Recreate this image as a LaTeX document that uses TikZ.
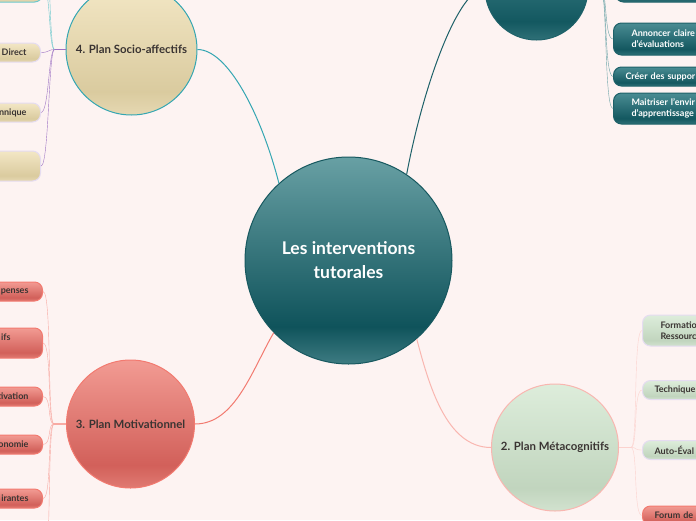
\documentclass[tikz,border=0pt]{standalone}
\usepackage{fontspec}
\setmainfont{Lato}
\usetikzlibrary{calc}

\definecolor{bgpink}{HTML}{FDF3F2}
\definecolor{textdark}{HTML}{3A3432}
% circle and box fills
\definecolor{rootband}{HTML}{3E7C82}
\definecolor{rootdark}{HTML}{0F535B}
\definecolor{rootlight}{HTML}{68A0A4}
\definecolor{tband}{HTML}{2F7077}
\definecolor{tdark}{HTML}{135860}
\definecolor{tlight}{HTML}{4A8C93}
\definecolor{bband}{HTML}{E6D8B2}
\definecolor{bdark}{HTML}{DACB9F}
\definecolor{blight}{HTML}{F3E7C5}
\definecolor{rband}{HTML}{E07A72}
\definecolor{rdark}{HTML}{D2605A}
\definecolor{rlight}{HTML}{F29B93}
\definecolor{gband}{HTML}{D2E2CF}
\definecolor{gdark}{HTML}{C1D5BE}
\definecolor{glight}{HTML}{DDEDDB}
% lines
\definecolor{rootline}{HTML}{17585F}
\definecolor{cyanline}{HTML}{34A6B2}
\definecolor{cyanlight}{HTML}{6CC8CC}
\definecolor{purpleline}{HTML}{9E74C4}
\definecolor{redline}{HTML}{F27A70}
\definecolor{redlight}{HTML}{F8AAA3}
\definecolor{pinkline}{HTML}{F9B6B0}
\definecolor{pinklight}{HTML}{FCD2CE}
\definecolor{tealline}{HTML}{1E6169}
\definecolor{teallight}{HTML}{6EA5A9}
\definecolor{lavender}{HTML}{E5DCF1}

\pgfdeclareverticalshading{rootshade}{100bp}{color(0bp)=(rootband); color(25bp)=(rootband); color(34bp)=(rootdark); color(75bp)=(rootlight); color(100bp)=(rootlight)}
\pgfdeclareverticalshading{tealshade}{100bp}{color(0bp)=(tband); color(25bp)=(tband); color(34bp)=(tdark); color(75bp)=(tlight); color(100bp)=(tlight)}
\pgfdeclareverticalshading{beigeshade}{100bp}{color(0bp)=(bband); color(25bp)=(bband); color(34bp)=(bdark); color(75bp)=(blight); color(100bp)=(blight)}
\pgfdeclareverticalshading{redshade}{100bp}{color(0bp)=(rband); color(25bp)=(rband); color(34bp)=(rdark); color(75bp)=(rlight); color(100bp)=(rlight)}
\pgfdeclareverticalshading{greenshade}{100bp}{color(0bp)=(gband); color(25bp)=(gband); color(34bp)=(gdark); color(75bp)=(glight); color(100bp)=(glight)}

\begin{document}
\begin{tikzpicture}[x=1pt,y=-1pt,
  plan/.style={circle,shade,line width=1pt,minimum size=#1,inner sep=0pt,
    text=textdark,font=\bfseries\fontsize{11.4}{13}\selectfont},
  leafl/.style={anchor=east,shade,rounded corners=8pt,line width=1pt,
    text width=80pt,align=right,inner xsep=14pt,inner ysep=0pt,
    minimum height=19pt,font=\bfseries\fontsize{9}{11}\selectfont},
  leafr/.style={anchor=west,shade,rounded corners=8pt,line width=1pt,
    text width=90pt,align=left,inner xsep=12pt,inner ysep=0pt,
    minimum height=19pt,font=\bfseries\fontsize{9}{11}\selectfont}]
  \useasboundingbox (0,0) rectangle (696,520);
  \clip (0,0) rectangle (696,520);
  \fill[bgpink] (0,0) rectangle (696,520);

  % main circles
  \node[plan=207pt,shading=rootshade,draw=rootline,text=white,align=center,
    font=\bfseries\fontsize{17.5}{24}\selectfont] (root) at (348.5,260.5)
    {Les interventions\\tutorales};
  \node[plan=131pt,shading=beigeshade,draw=cyanline] (socio) at (131.5,49.5) {4. Plan Socio-affectifs};
  \node[plan=103pt,shading=tealshade,draw=tealline] (peda) at (536.5,-11.5) {};
  \node[plan=128pt,shading=redshade,draw=redline] (motiv) at (130.5,424) {3. Plan Motivationnel};
  \node[plan=127pt,shading=greenshade,draw=pinkline] (meta) at (555,447.5) {2. Plan Métacognitifs};

  % branches from the centre
  \draw[cyanline,line width=1pt] (socio.east) .. controls +(30,0) and +(-18,-70) .. (root.132);
  \draw[tealline,line width=1pt] (root.56) .. controls +(18,-95) and +(-25,0) .. (peda.west);
  \draw[redline,line width=1pt] (motiv.east) .. controls +(40,0) and +(-22,38) .. (root.224);
  \draw[pinkline,line width=1pt] (root.311) .. controls +(12,45) and +(-45,0) .. (meta.west);

  % hubs
  \draw[purpleline,line width=1.2pt] (socio.west) -- ++(-11,0) coordinate (hs);
  \draw[redlight,line width=1.2pt] (motiv.west) -- ++(-12,0) coordinate (hm);
  \draw[pinklight,line width=1.2pt] (meta.east) -- ++(12,0) coordinate (hg);
  \draw[teallight,line width=1.2pt] (peda.east) -- ++(12,0) coordinate (hp);

  % 4. socio-affectifs
  \node[leafl,shading=beigeshade,draw=cyanlight,minimum height=30pt] (s0) at (43,-13) {};
  \node[leafl,shading=beigeshade,draw=lavender,text=textdark] (s1) at (41,52.5) {Direct};
  \node[leafl,shading=beigeshade,draw=lavender,text=textdark] (s2) at (41,112.5) {nnique};
  \node[leafl,shading=beigeshade,draw=lavender,minimum height=30pt] (s3) at (41,166) {};
  \coordinate (s4) at (43,-70);
  \foreach \s in {s0,s4}
    \draw[cyanlight] (hs) .. controls +(-6,0) and +(8,0) .. (\s.east);
  \foreach \s in {s1,s2,s3}
    \draw[purpleline] (hs) .. controls +(-6,0) and +(8,0) .. (\s.east);

  % 3. motivationnel
  \node[leafl,shading=redshade,draw=redline,text=textdark] (m1) at (43,291.5) {penses};
  \node[leafl,shading=redshade,draw=redline,text=textdark,minimum height=30pt,inner xsep=32pt] (m2) at (43,343) {ifs\\\mbox{}};
  \node[leafl,shading=redshade,draw=redline,text=textdark] (m3) at (43,396.5) {tivation};
  \node[leafl,shading=redshade,draw=redline,text=textdark] (m4) at (43,444.5) {onomie};
  \node[leafl,shading=redshade,draw=redline,text=textdark] (m5) at (43,498.5) {irantes};
  \coordinate (m6) at (43,570);
  \foreach \m in {m1,m2,m3,m4,m5,m6}
    \draw[redlight] (hm) .. controls +(-7,0) and +(9,0) .. (\m.east);

  % 2. metacognitifs
  \node[leafr,shading=greenshade,draw=lavender,text=textdark,minimum height=31pt,inner xsep=18pt] (g1) at (642,330.5) {Formatio\\Ressourc};
  \node[leafr,shading=greenshade,draw=lavender,text=textdark] (g2) at (642,390) {Technique};
  \node[leafr,shading=greenshade,draw=lavender,text=textdark] (g3) at (642,450) {Auto-Éval};
  \node[leafr,shading=redshade,draw=redline,text=textdark] (g4) at (642,515.5) {Forum de};
  \foreach \g in {g1,g2,g3,g4}
    \draw[pinklight] (hg) .. controls +(7,0) and +(-9,0) .. (\g.west);

  % 1. top right circle
  \node[leafr,shading=tealshade,draw=tealline,minimum height=30pt] (p0) at (615,-13) {};
  \node[leafr,shading=tealshade,draw=tealline,text=white,minimum height=32pt,inner xsep=18pt] (p1) at (613,39) {Annoncer claire\\d'évaluations};
  \node[leafr,shading=tealshade,draw=tealline,text=white] (p2) at (613,76.5) {Créer des suppor};
  \node[leafr,shading=tealshade,draw=tealline,text=white,minimum height=31pt,inner xsep=18pt] (p3) at (613,108.5) {Maitriser l'envir\\d'apprentissage};
  \foreach \p in {p0,p1,p2,p3}
    \draw[teallight] (hp) .. controls +(7,0) and +(-9,0) .. (\p.west);
\end{tikzpicture}
\end{document}
